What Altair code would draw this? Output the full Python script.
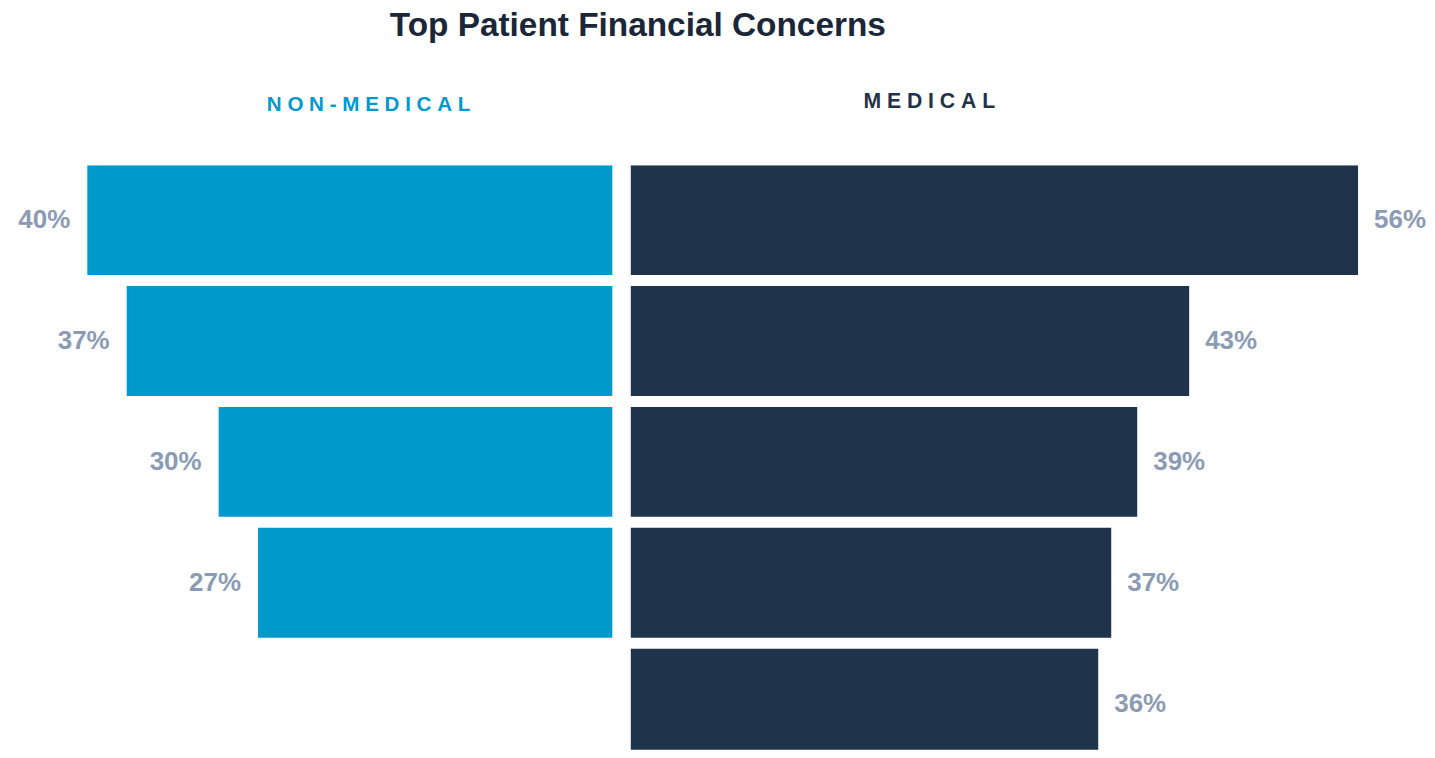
import altair as alt
import pandas as pd

# ---- data ----
nonmed_pct = [40, 37, 30, 27]
med_pct = [56, 43, 39, 37, 36]
title_text = "Top Patient Financial Concerns"
left_heading = "NON-MEDICAL"
right_heading = "MEDICAL"

FONT = "Liberation Sans"
BLUE = "#0099cc"
NAVY = "#1f344a"
LABEL = "#8b9bb3"
TITLE = "#1b2638"

SP = "\u2008"  # punctuation space used as letter tracking

left_df = pd.DataFrame({"rank": list(range(len(nonmed_pct))), "pct": nonmed_pct})
right_df = pd.DataFrame({"rank": list(range(len(med_pct))), "pct": med_pct})

yscale = alt.Scale(domain=[0, 4.835], reverse=True, nice=False, zero=False)


def panel(df, color, xscale, align, dx, heading, hcolor, hdx, hdy, hsize, width):
    base = alt.Chart(df).transform_calculate(
        y2="datum.rank + 0.909",
        mid="datum.rank + 0.4545",
        lab="datum.pct + '%'",
    )
    bars = base.mark_bar(color=color, clip=True).encode(
        x=alt.X("pct:Q", scale=xscale, axis=None),
        x2=alt.datum(0),
        y=alt.Y("rank:Q", scale=yscale, axis=None),
        y2="y2:Q",
    )
    labels = base.mark_text(
        align=align, baseline="middle", dx=dx, font=FONT, fontSize=26,
        fontWeight="bold", color=LABEL,
    ).encode(
        x=alt.X("pct:Q", scale=xscale, axis=None),
        y=alt.Y("mid:Q", scale=yscale, axis=None),
        text="lab:N",
    )
    return alt.layer(bars, labels).properties(
        width=width,
        height=585,
        title=alt.TitleParams(
            SP.join(heading), anchor="start", dx=hdx, dy=hdy, font=FONT,
            fontSize=hsize, fontWeight="bold", color=hcolor, offset=50,
        ),
    )


left = panel(
    left_df, BLUE,
    alt.Scale(domain=[0, 46.04], reverse=True, nice=False),
    "right", -17, left_heading, BLUE, 259, 0, 20.6, 605,
)
right = panel(
    right_df, NAVY,
    alt.Scale(domain=[0, 61.23], nice=False),
    "left", 16, right_heading, NAVY, 233, -3, 21.2, 796,
)

chart = alt.hconcat(left, right, spacing=18).properties(
    padding=0,
    title=alt.TitleParams(
        title_text, anchor="start", dx=382, dy=3, font=FONT, fontSize=33.4,
        fontWeight="bold", color=TITLE, offset=51,
    ),
).configure_view(stroke=None)

chart.save("out.html", embed_options={"renderer": "svg", "actions": False})
